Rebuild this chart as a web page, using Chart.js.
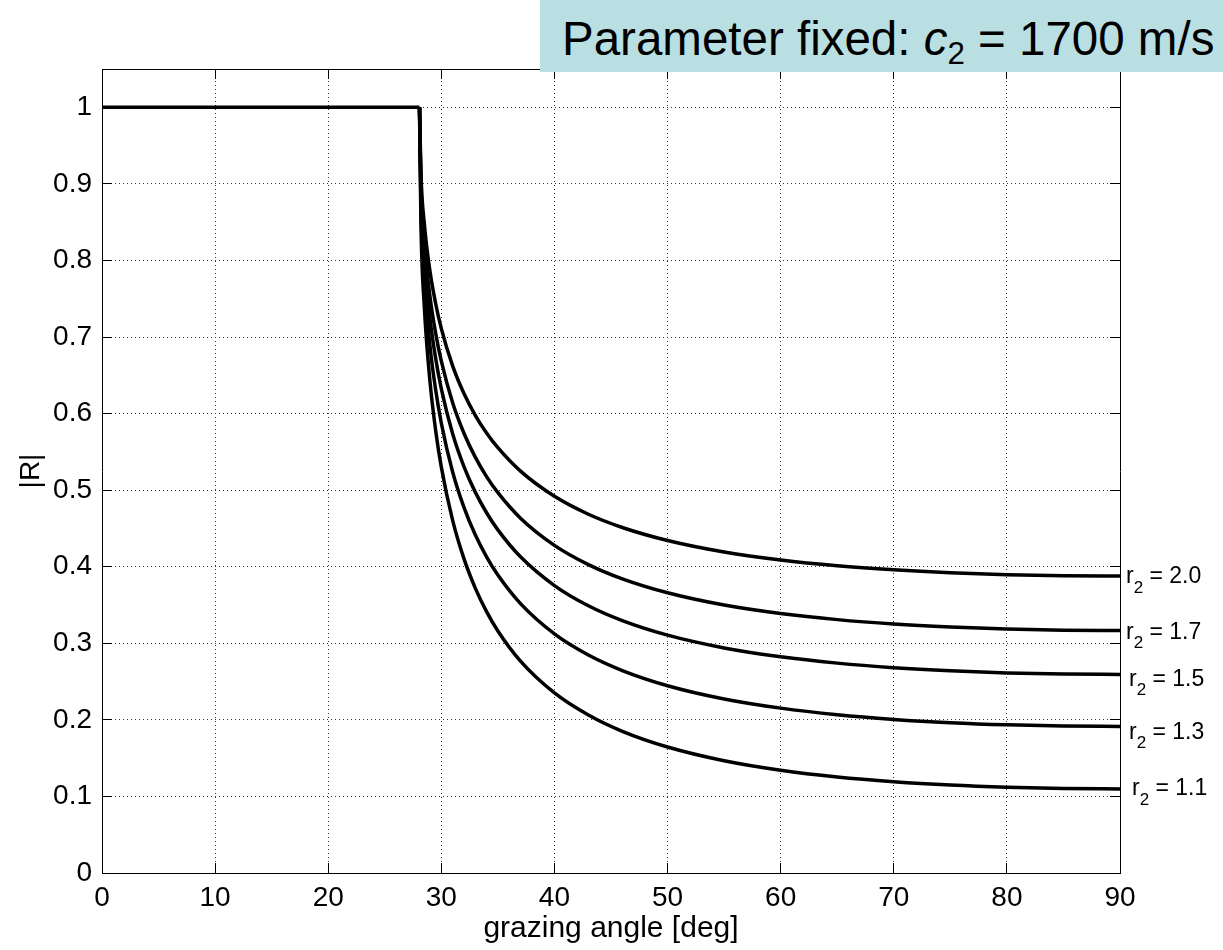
<!DOCTYPE html>
<html>
<head>
<meta charset="utf-8">
<title>|R| vs grazing angle</title>
<script src="https://cdn.jsdelivr.net/npm/chart.js@4.4.1/dist/chart.umd.min.js"></script>
<style>
  html, body { margin: 0; padding: 0; background: #fff; }
  #wrap { position: relative; width: 1223px; height: 950px; }
  #chart { position: absolute; left: 0; top: 0; }
  #param-box {
    position: absolute; left: 540px; top: 0; width: 683px; height: 72px;
    background: #b9dfe3; color: #000; box-sizing: border-box; padding-left: 22px; padding-top: 3px;
    font: 47.5px "Liberation Sans", Arial, sans-serif; line-height: 72px; white-space: nowrap; overflow: hidden;
  }
  #param-box sub { font-size: 0.66em; vertical-align: -0.3em; line-height: 0; }
</style>
</head>
<body>
<div id="wrap">
  <canvas id="chart" width="1223" height="950"></canvas>
  <div id="param-box">Parameter fixed: <i>c</i><sub>2</sub> = 1700 m/s</div>
</div>
<script>
// |R| against grazing angle, c2 fixed at 1700 m/s, one curve per density ratio r2.

// ---- Data ------------------------------------------------------------------
// total reflection below the critical angle (~28.07 deg)
const flatAngles = [0, 28.07];
const flatValues = [1, 1];

// angles (deg) where the curves were read
const angles = [28.07, 28.2, 28.5, 29, 29.5, 30, 31, 32, 33, 34, 35, 37, 40, 43, 46, 50, 55, 60, 65, 70, 75, 80, 85, 90];

const r2_20 = [1, 0.9128, 0.8473, 0.7854, 0.7434, 0.7109, 0.6623, 0.6262, 0.5978, 0.5747, 0.5554, 0.5248, 0.4919, 0.4685, 0.4512, 0.4342, 0.4192, 0.4087, 0.4012, 0.3959, 0.3921, 0.3896, 0.3882, 0.3878];
const r2_17 = [1, 0.8982, 0.8227, 0.7522, 0.7048, 0.6684, 0.6141, 0.5743, 0.5431, 0.5177, 0.4967, 0.4634, 0.4279, 0.4028, 0.3842, 0.3660, 0.3500, 0.3389, 0.3309, 0.3252, 0.3213, 0.3186, 0.3171, 0.3166];
const r2_15 = [1, 0.8854, 0.8014, 0.7237, 0.6719, 0.6323, 0.5737, 0.5308, 0.4974, 0.4705, 0.4481, 0.4129, 0.3754, 0.3490, 0.3296, 0.3106, 0.2939, 0.2823, 0.2741, 0.2682, 0.2641, 0.2613, 0.2598, 0.2593];
const r2_13 = [1, 0.8689, 0.7743, 0.6878, 0.6307, 0.5874, 0.5237, 0.4775, 0.4417, 0.4129, 0.3891, 0.3518, 0.3123, 0.2847, 0.2644, 0.2446, 0.2273, 0.2153, 0.2067, 0.2006, 0.1963, 0.1935, 0.1919, 0.1914];
const r2_11 = [1, 0.8469, 0.7386, 0.6413, 0.5777, 0.5300, 0.4605, 0.4105, 0.3721, 0.3413, 0.3160, 0.2766, 0.2351, 0.2063, 0.1851, 0.1646, 0.1467, 0.1343, 0.1255, 0.1193, 0.1149, 0.1120, 0.1103, 0.1098];

const curveNames = ['2.0', '1.7', '1.5', '1.3', '1.1'];
const curveValues = [r2_20, r2_17, r2_15, r2_13, r2_11];

// ---- Styling ---------------------------------------------------------------
const FONT = '"Liberation Sans", Arial, sans-serif';
const labelShiftX = [0, 0, 3, 3, 6];   // px, the r2 labels are not quite aligned
const labelShiftY = [1, 2, 5, 6, 0];

function toPoints(xs, ys) {
  return xs.map(function (x, i) { return { x: x, y: ys[i] }; });
}

const datasets = [{
  label: 'flat',
  data: toPoints(flatAngles, flatValues)
}].concat(curveValues.map(function (vals, i) {
  return { label: 'r2 = ' + curveNames[i], data: toPoints(angles, vals) };
}));

// labels "r2 = x.x" just right of the plot box, at the height of each curve end
const curveLabelPlugin = {
  id: 'curveLabels',
  afterDatasetsDraw: function (chart) {
    const ctx = chart.ctx;
    const ys  = chart.scales.y;
    ctx.save();
    ctx.fillStyle = '#000';
    ctx.textBaseline = 'middle';
    ctx.textAlign = 'left';
    curveValues.forEach(function (vals, i) {
      const y = ys.getPixelForValue(vals[vals.length - 1]) + labelShiftY[i];
      let x = chart.chartArea.right + 6 + labelShiftX[i];
      ctx.font = '23px ' + FONT;
      ctx.fillText('r', x, y);
      x += ctx.measureText('r').width;
      ctx.font = '17px ' + FONT;
      ctx.fillText('2', x, y + 11);
      x += ctx.measureText('2').width;
      ctx.font = '23px ' + FONT;
      ctx.fillText(' = ' + curveNames[i], x, y);
    });
    ctx.restore();
  }
};

const tickFont = { family: FONT, size: 28 };
const innerTicks = { tickLength: -10, tickColor: '#000', tickWidth: 1, tickBorderDash: [] };

function keepToOne(s) {
  s.ticks = s.ticks.filter(function (t) { return t.value <= 1.0001; });
}

new Chart(document.getElementById('chart'), {
  type: 'line',
  data: { datasets: datasets },
  plugins: [curveLabelPlugin],
  options: {
    responsive: false,
    animation: false,
    devicePixelRatio: 1,
    layout: { padding: { left: 0, top: 69, right: 103, bottom: 0 } },
    plugins: { legend: { display: false }, tooltip: { enabled: false } },
    elements: {
      point: { radius: 0 },
      line: { borderWidth: 3.5, borderColor: '#000', cubicInterpolationMode: 'monotone', fill: false }
    },
    scales: {
      x: {
        type: 'linear', position: 'bottom', min: 0, max: 90,
        ticks: { stepSize: 10, padding: 18, color: '#000', font: tickFont, maxRotation: 0 },
        grid: Object.assign({ color: '#333', lineWidth: 1 }, innerTicks),
        border: { display: true, color: '#000', width: 1, dash: [1, 3] },
        title: { display: true, text: 'grazing angle [deg]', color: '#000',
                 font: { family: FONT, size: 30 }, padding: { top: 0, bottom: 3 } },
        afterFit: function (s) { s.height = 77; }
      },
      y: {
        type: 'linear', position: 'left', min: 0, max: 1.05,
        ticks: {
          stepSize: 0.1, padding: 20, color: '#000', font: tickFont,
          callback: function (v) { return String(Number(v.toFixed(1))); }
        },
        afterBuildTicks: keepToOne,
        grid: Object.assign({ color: '#333', lineWidth: 1 }, innerTicks),
        border: { display: true, color: '#000', width: 1, dash: [1, 3] },
        title: { display: true, text: '|R|', color: '#000',
                 font: { family: FONT, size: 28 }, padding: { top: 14, bottom: 0 } },
        afterFit: function (s) { s.width = 102; }
      },
      x2: {
        type: 'linear', position: 'top', min: 0, max: 90,
        ticks: { stepSize: 10, display: false },
        grid: Object.assign({ drawOnChartArea: false }, innerTicks),
        border: { display: true, color: '#000', width: 1 },
        afterFit: function (s) { s.height = 0; }
      },
      y2: {
        type: 'linear', position: 'right', min: 0, max: 1.05,
        ticks: { stepSize: 0.1, display: false },
        afterBuildTicks: keepToOne,
        grid: Object.assign({ drawOnChartArea: false }, innerTicks),
        border: { display: true, color: '#000', width: 1 },
        afterFit: function (s) { s.width = 0; }
      }
    }
  }
});
</script>
</body>
</html>
